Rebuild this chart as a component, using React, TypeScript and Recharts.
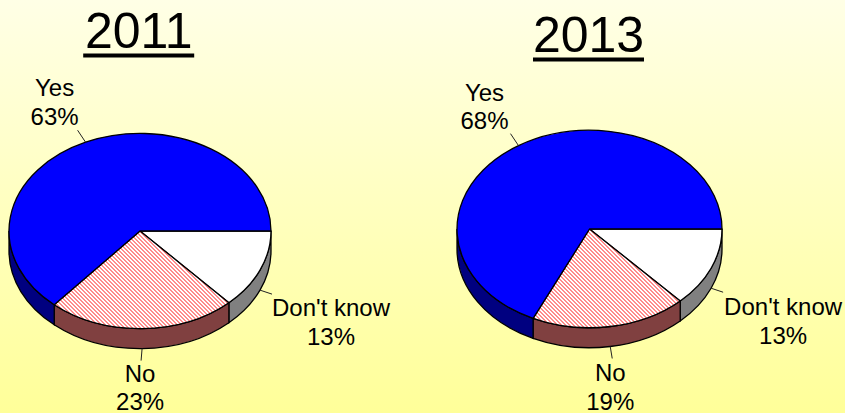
import React from "react";
import { PieChart, Pie } from "recharts";

// Survey answers per year
const order2011 = ["Don't know", "No", "Yes"];
const values2011 = [13, 23, 63];
const order2013 = ["Don't know", "No", "Yes"];
const values2013 = [13, 19, 68];
const years = ["2011", "2013"];

const toRows = (names: string[], values: number[]) =>
  names.map((name, i) => ({ name, value: values[i] }));

// Face and wall paint per answer
const topFill: Record<string, string> = {
  Yes: "#0000ff",
  No: "url(#pinkHatch)",
  "Don't know": "#ffffff",
};
const wallFill: Record<string, string> = {
  Yes: "#000080",
  No: "#804040",
  "Don't know": "#808080",
};

const FONT = '"Liberation Sans", Arial, sans-serif';
const TILT = 0.745; // vertical squash of the disc
const DEPTH = 20; // wall height

const RAD = Math.PI / 180;

// Draws one slice as a tilted disc wedge plus its visible outer wall.
function TiltedSlice(props: any) {
  const { cx, cy, outerRadius: rx, startAngle, endAngle, name } = props;
  const ry = rx * TILT;
  const a0 = -startAngle;
  const a1 = -endAngle;
  const pt = (a: number, dy = 0) =>
    `${cx + rx * Math.cos(a * RAD)} ${cy + dy + ry * Math.sin(a * RAD)}`;
  const large = a1 - a0 > 180 ? 1 : 0;
  const top = `M${cx} ${cy}L${pt(a0)}A${rx} ${ry} 0 ${large} 1 ${pt(a1)}Z`;
  const w0 = Math.max(a0, 0);
  const w1 = Math.min(a1, 180);
  const wall =
    w1 > w0
      ? `M${pt(w0)}A${rx} ${ry} 0 0 1 ${pt(w1)}L${pt(w1, DEPTH)}A${rx} ${ry} 0 0 0 ${pt(w0, DEPTH)}Z`
      : null;
  return (
    <g>
      {wall && <path d={wall} fill={wallFill[name]} stroke="#000" strokeWidth={1.3} />}
      <path d={top} fill={topFill[name]} stroke="#000" strokeWidth={1.3} strokeLinejoin="round" />
    </g>
  );
}

// Leader length and text placement for each answer, relative to the rim point
const layout2011: Record<string, { lead: [number, number]; text: [number, number] }> = {
  Yes: { lead: [-8, -12], text: [-31, -46] },
  No: { lead: [-1, 12], text: [-2, 33] },
  "Don't know": { lead: [12, 4], text: [71, 26] },
};
const layout2013: Record<string, { lead: [number, number]; text: [number, number] }> = {
  Yes: { lead: [-8, -12], text: [-34, -45] },
  No: { lead: [2, 12], text: [0, 35] },
  "Don't know": { lead: [12, 4], text: [72, 27] },
};

const makeLabel =
  (layout: typeof layout2011) =>
  (props: any) => {
    const { cx, cy, outerRadius: rx, startAngle, endAngle, name, value } = props;
    const mid = -(startAngle + endAngle) / 2;
    const sin = Math.sin(mid * RAD);
    const x = cx + rx * Math.cos(mid * RAD);
    const y = cy + rx * TILT * sin + (sin > 0 ? DEPTH : 0);
    const { lead, text } = layout[name];
    return (
      <g>
        <line x1={x} y1={y} x2={x + lead[0]} y2={y + lead[1]} stroke="#222" strokeWidth={1} />
        <text
          x={x + text[0]}
          y={y + text[1]}
          textAnchor="middle"
          fontFamily={FONT}
          fontSize={24}
          fill="#000"
        >
          {name}
        </text>
        <text
          x={x + text[0]}
          y={y + text[1] + 28.5}
          textAnchor="middle"
          fontFamily={FONT}
          fontSize={24}
          fill="#000"
        >
          {value}%
        </text>
      </g>
    );
  };

function Title({ x, y, label }: { x: number; y: number; label: string }) {
  return (
    <g>
      <text x={x} y={y} textAnchor="middle" fontFamily={FONT} fontSize={50} fill="#000">
        {label}
      </text>
      <rect x={x - 55.5} y={y + 5.5} width={111} height={4} fill="#000" />
    </g>
  );
}

export default function App() {
  return (
    <div
      style={{
        position: "absolute",
        left: 0,
        top: 0,
        width: 845,
        height: 413,
        overflow: "hidden",
        background: "linear-gradient(180deg, #ffffe6 0%, #ffff99 100%)",
      }}
    >
      <PieChart width={845} height={413} margin={{ top: 0, right: 0, bottom: 0, left: 0 }}>
        <defs>
          <pattern id="pinkHatch" width={4} height={4} patternUnits="userSpaceOnUse">
            <rect width={4} height={4} fill="#ffffff" />
            <path
              d="M0 0h2v1h-2zM1 1h2v1h-2zM2 2h2v1h-2zM3 3h1v1h-1zM0 3h1v1h-1z"
              fill="#ff8c8c"
              shapeRendering="crispEdges"
            />
          </pattern>
        </defs>
        <Title x={138.7} y={48} label={years[0]} />
        <Title x={588.5} y={52} label={years[1]} />
        <Pie
          data={toRows(order2011, values2011)}
          dataKey="value"
          nameKey="name"
          cx={140}
          cy={231}
          outerRadius={131}
          startAngle={0}
          endAngle={-360}
          paddingAngle={0}
          shape={TiltedSlice}
          label={makeLabel(layout2011)}
          labelLine={false}
          isAnimationActive={false}
        />
        <Pie
          data={toRows(order2013, values2013)}
          dataKey="value"
          nameKey="name"
          cx={589.5}
          cy={229}
          outerRadius={132.5}
          startAngle={0}
          endAngle={-360}
          paddingAngle={0}
          shape={TiltedSlice}
          label={makeLabel(layout2013)}
          labelLine={false}
          isAnimationActive={false}
        />
      </PieChart>
    </div>
  );
}
